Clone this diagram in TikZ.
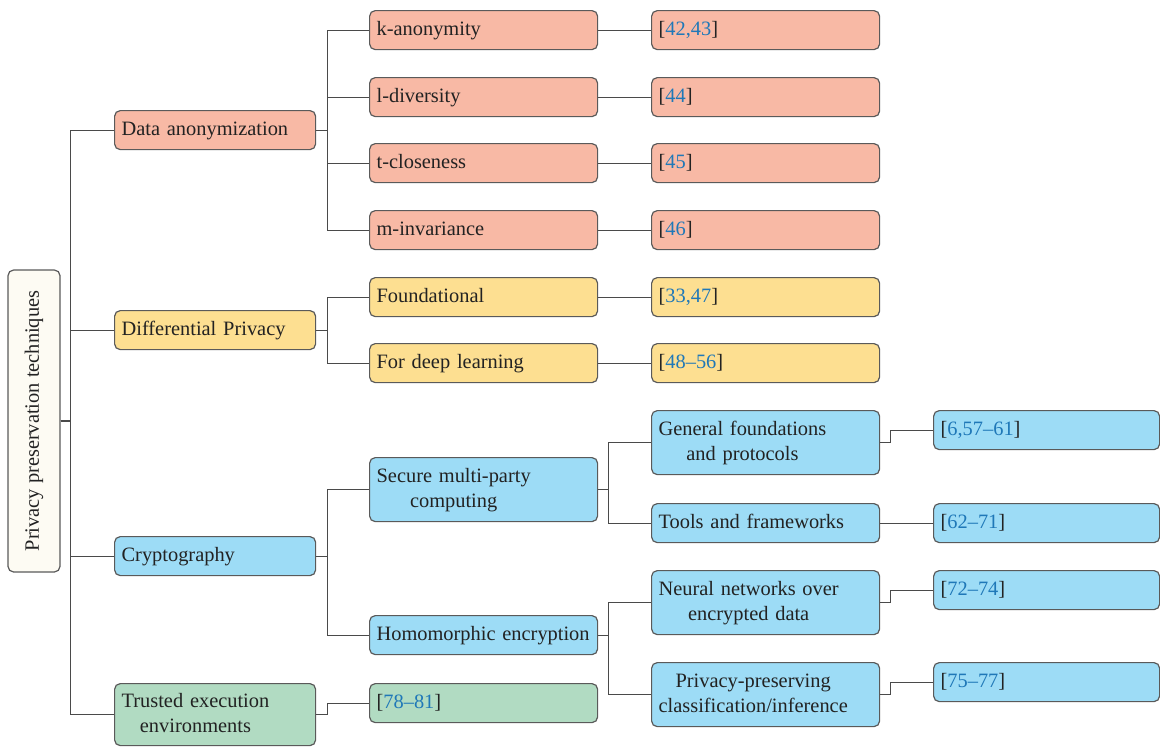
\documentclass[tikz,border=0pt]{standalone}
\usepackage{fontspec}
\setmainfont{Liberation Serif}
\definecolor{txt}{HTML}{222222}
\definecolor{edgec}{HTML}{4A4A4A}
\definecolor{boxline}{HTML}{5A5A5A}
\definecolor{rootfill}{HTML}{FDFBF3}
\definecolor{anonfill}{HTML}{F8B9A5}
\definecolor{dpfill}{HTML}{FDDF91}
\definecolor{cryptofill}{HTML}{9DDCF6}
\definecolor{teefill}{HTML}{B1DBC2}
\definecolor{refblue}{HTML}{1F78B8}
\newcommand{\refs}[1]{[\textcolor{refblue}{#1}]}
\newcommand{\twolines}[2]{\begin{tabular}{@{}c@{}}#1\\#2\end{tabular}}
\tikzset{
  box/.style={draw=boxline, line width=0.6pt, rounded corners=2.8pt,
    anchor=north west, inner xsep=3.5pt, inner ysep=0pt, align=left,
    font=\fontsize{10.2}{12.5}\selectfont, text=txt,
    execute at begin node={\vphantom{g}\rule{0pt}{8pt}}},
  lvla/.style={box, text width=100.5pt-7pt, minimum height=19.5pt},
  lvlb/.style={box, text width=114pt-7pt, minimum height=19.5pt},
  tall/.style={minimum height=32pt},
  teetall/.style={minimum height=31pt},
  anon/.style={fill=anonfill}, dp/.style={fill=dpfill},
  crypto/.style={fill=cryptofill}, tee/.style={fill=teefill},
  link/.style={draw=edgec, line width=0.55pt}
}
\begin{document}
\begin{tikzpicture}[x=0.5pt,y=-0.5pt]
\useasboundingbox (0,0) rectangle (1160,746);

% root
\node[draw=boxline, line width=0.6pt, rounded corners=2.8pt, fill=rootfill,
  rotate=90, minimum width=151pt, minimum height=26pt, inner sep=0pt,
  font=\fontsize{10.2}{12.5}\selectfont, text=txt]
  (root) at (34,421) {Privacy preservation techniques};

% first level
\node[lvla, anon] (da) at (114,110) {Data anonymization};
\node[lvla, dp] (dp) at (114,310) {Differential Privacy};
\node[lvla, crypto] (cr) at (114,536) {Cryptography};
\node[lvla, tee, teetall] (te) at (114,683) {\twolines{Trusted execution}{environments}};

% second level
\node[lvlb, anon] (ka) at (369,10) {k-anonymity};
\node[lvlb, anon] (ld) at (369,77) {l-diversity};
\node[lvlb, anon] (tc) at (369,143) {t-closeness};
\node[lvlb, anon] (mi) at (369,210) {m-invariance};
\node[lvlb, dp] (fo) at (369,277) {Foundational};
\node[lvlb, dp] (fd) at (369,343) {For deep learning};
\node[lvlb, crypto, tall] (smc) at (369,457) {\twolines{Secure multi-party}{computing}};
\node[lvlb, crypto] (he) at (369,615) {Homomorphic encryption};
\node[lvlb, tee] (rte) at (369,683) {\refs{78--81}};

% third level
\node[lvlb, anon] (rka) at (651,10) {\refs{42,43}};
\node[lvlb, anon] (rld) at (651,77) {\refs{44}};
\node[lvlb, anon] (rtc) at (651,143) {\refs{45}};
\node[lvlb, anon] (rmi) at (651,210) {\refs{46}};
\node[lvlb, dp] (rfo) at (651,277) {\refs{33,47}};
\node[lvlb, dp] (rfd) at (651,343) {\refs{48--56}};
\node[lvlb, crypto, tall] (gf) at (651,410) {\twolines{General foundations}{and protocols}};
\node[lvlb, crypto] (tf) at (651,503) {Tools and frameworks};
\node[lvlb, crypto, tall] (nn) at (651,570) {\twolines{Neural networks over}{encrypted data}};
\node[lvlb, crypto, tall] (pp) at (651,662) {\twolines{Privacy-preserving}{classification/inference}};

% fourth level
\node[lvlb, crypto, text width=113pt-7pt] (rgf) at (933,410) {\refs{6,57--61}};
\node[lvlb, crypto, text width=113pt-7pt] (rtf) at (933,503) {\refs{62--71}};
\node[lvlb, crypto, text width=113pt-7pt] (rnn) at (933,570) {\refs{72--74}};
\node[lvlb, crypto, text width=113pt-7pt] (rpp) at (933,662) {\refs{75--77}};

% connectors
\foreach \c in {da,dp,cr,te} \draw[link] (root.south) -- ++(10,0) |- (\c.west);
\foreach \c in {ka,ld,tc,mi} \draw[link] (da.east) -- ++(11,0) |- (\c.west);
\foreach \c in {fo,fd} \draw[link] (dp.east) -- ++(11,0) |- (\c.west);
\foreach \c in {smc,he} \draw[link] (cr.east) -- ++(11,0) |- (\c.west);
\draw[link] (te.east) -- ++(11,0) |- (rte.west);
\foreach \p/\c in {ka/rka,ld/rld,tc/rtc,mi/rmi,fo/rfo,fd/rfd} \draw[link] (\p.east) -- (\c.west);
\foreach \c in {gf,tf} \draw[link] (smc.east) -- ++(10,0) |- (\c.west);
\foreach \c in {nn,pp} \draw[link] (he.east) -- ++(10,0) |- (\c.west);
\foreach \p/\c in {gf/rgf,tf/rtf,nn/rnn,pp/rpp} \draw[link] (\p.east) -- ++(10,0) |- (\c.west);
\end{tikzpicture}
\end{document}
